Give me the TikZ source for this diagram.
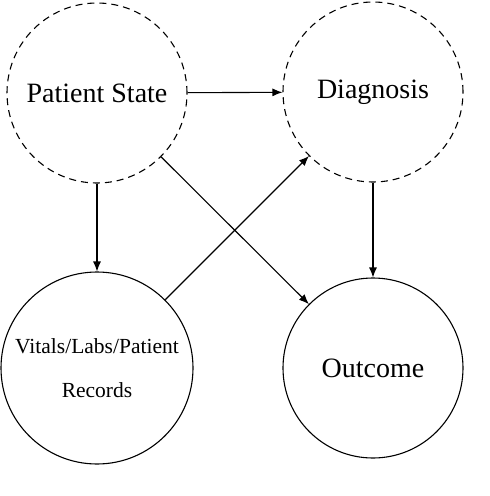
\documentclass[tikz,border=0pt]{standalone}
\usepackage{fontspec}
\setmainfont{Liberation Serif}
\usetikzlibrary{arrows.meta}
\begin{document}
\begin{tikzpicture}[x=1pt,y=-1pt,
  latent/.style={circle,draw,line width=1.1pt,dash pattern=on 7pt off 5pt,minimum size=180pt,inner sep=0pt,font=\fontsize{28}{34}\selectfont},
  observed/.style={circle,draw,line width=1.1pt,minimum size=180pt,inner sep=0pt,font=\fontsize{28}{34}\selectfont},
  edge/.style={line width=1.1pt,-{Latex[length=10pt,width=8pt]}}]
\useasboundingbox (0,0) rectangle (490,496);
\node[latent] (ps) at (97,93) {Patient State};
\node[latent] (dx) at (373,92) {Diagnosis};
\node[observed,minimum size=192pt,align=center,font=\fontsize{21.5}{44}\selectfont] (vr) at (97,368) {Vitals/Labs/Patient\\Records};
\node[observed] (oc) at (373,368) {Outcome};
\draw[edge] (ps) -- (dx);
\draw[edge] (ps) -- (vr);
\draw[edge] (ps) -- (oc);
\draw[edge] (vr) -- (dx);
\draw[edge] (dx) -- (oc);
\end{tikzpicture}
\end{document}
